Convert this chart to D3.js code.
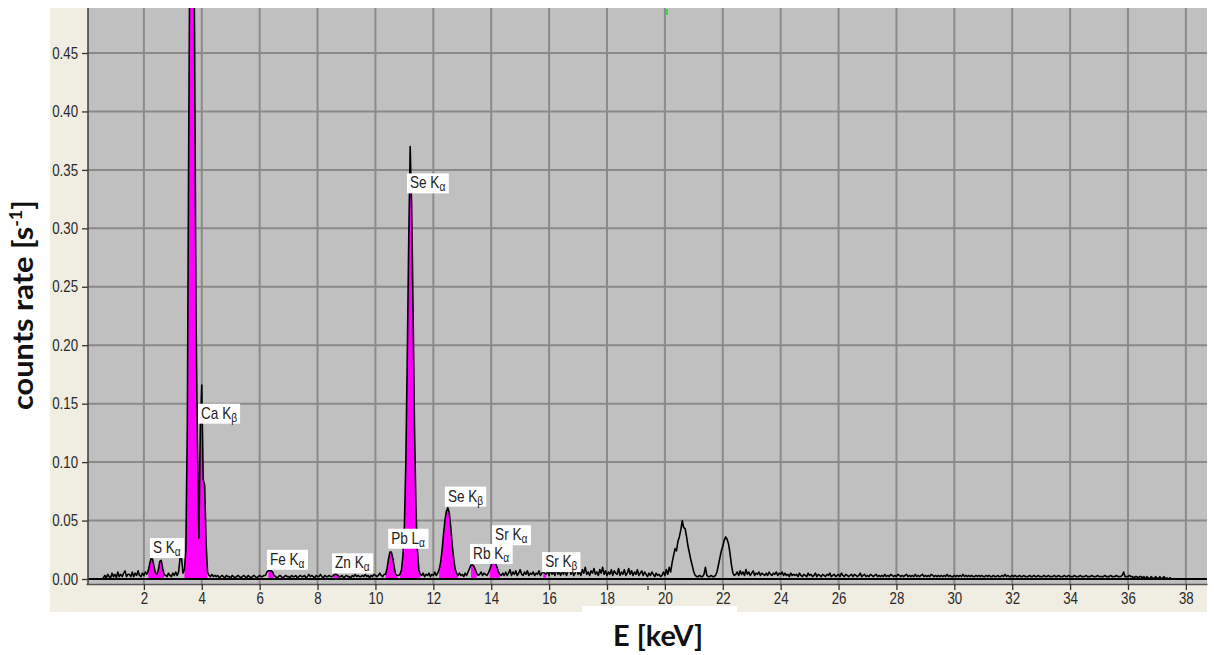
<!DOCTYPE html>
<html>
<head>
<meta charset="utf-8">
<title>XRF spectrum</title>
<script src="https://cdn.jsdelivr.net/npm/d3@7/dist/d3.min.js"></script>
<style>
  body { margin: 0; background: #fff; }
  text { font-family: "Liberation Sans", Arial, sans-serif; }
</style>
</head>
<body>
<script>
var width = 1214, height = 655;

// spectrum: one value every 0.05 keV from 0.50 keV, in 10^-3 s^-1
var eStart = 0.5, eStep = 0.05;
var rate = [
  0,0,1,3,1,4,2,1,5,2,4,1,6,2,4,2,5,7,2,4,
  4,2,6,2,5,3,7,3,2,5,3,6,4,7,13,18,17,11,5,4,
  8,15,16,9,4,3,2,5,3,2,5,3,6,3,6,18,18,5,8,25,
  130,380,600,600,600,470,230,116,35,130,166,85,80,30,6,3,2,4,2,3,
  2,3,1,2,3,2,1,3,2,2,1,3,2,1,2,3,2,1,2,3,
  2,1,3,2,1,2,3,2,1,2,3,2,2,3,3,6,7,7,7,6,
  3,2,1,2,3,2,1,2,3,2,2,1,3,2,2,3,1,2,3,2,
  2,3,1,2,4,2,3,2,1,3,2,2,4,2,1,3,2,2,3,2,
  2,3,4,4,3,2,2,3,1,2,3,2,2,1,3,2,4,2,3,2,
  2,3,2,4,2,3,1,3,2,4,3,2,3,5,3,2,4,4,9,17,
  23,23,18,10,4,3,3,4,8,20,45,100,190,290,370,320,230,130,60,25,
  8,4,3,5,2,4,3,5,2,4,3,6,3,5,8,14,24,38,50,58,
  61,57,45,30,18,9,5,3,5,3,4,2,5,3,6,9,12,12,11,8,
  5,3,4,6,3,5,4,3,5,8,12,14,14,13,10,6,4,3,5,3,
  6,3,5,8,3,6,4,7,3,5,8,4,3,6,4,7,3,5,4,6,
  3,5,4,7,3,5,6,5,4,7,3,8,4,6,3,9,4,6,3,7,
  4,8,3,6,10,4,7,3,5,9,4,6,3,8,5,10,4,6,3,7,
  5,9,4,6,3,8,5,10,4,7,3,6,4,8,3,7,5,4,9,3,
  6,4,8,3,5,9,4,7,3,6,4,8,3,5,7,3,6,4,2,5,
  3,6,4,2,5,3,4,2,3,6,3,8,4,10,6,14,20,26,24,32,
  36,42,50,44,43,36,28,22,16,11,6,3,2,2,3,2,2,4,10,3,
  2,2,3,2,2,3,6,12,18,24,28,33,36,34,30,22,12,5,3,4,
  6,3,7,4,6,3,8,4,6,3,5,7,3,5,4,6,3,5,4,3,
  5,3,6,4,3,5,4,6,3,5,4,6,3,5,3,4,2,5,3,4,
  3,4,2,5,3,2,4,3,2,5,3,4,2,3,5,2,4,3,2,4,
  3,2,4,3,5,2,3,4,2,3,4,2,5,3,2,4,3,2,3,4,
  2,4,3,2,3,5,2,3,4,2,3,2,4,3,2,3,4,2,3,2,
  3,2,4,2,3,2,4,3,2,3,2,4,3,2,3,2,3,4,2,3,
  2,3,2,4,2,3,2,3,4,2,3,2,3,2,4,3,2,3,2,3,
  2,3,2,3,2,4,2,3,2,2,3,2,3,2,3,2,4,2,3,2,
  3,2,3,2,2,3,2,3,2,3,2,2,3,2,3,2,2,3,2,2,
  3,2,2,3,2,4,2,3,2,2,3,2,3,2,2,3,2,2,3,2,
  2,2,3,2,2,3,2,2,3,2,2,2,3,2,2,3,2,2,2,3,
  2,2,3,2,2,2,3,2,2,3,2,2,2,3,2,2,2,3,2,2,
  2,3,2,2,2,3,2,2,2,3,2,2,2,2,3,2,2,2,3,2,
  2,2,3,2,2,2,3,6,2,2,2,3,2,2,1,2,2,1,2,2,
  1,2,0,2,1,0,2,1,0,2,1,0,2,0,1,2,0,1,0,1,
  0
];

// energy windows (keV) that are filled magenta
var roiStart = [2.15, 3.40, 6.30, 8.55, 10.35, 10.85, 12.20, 13.30, 13.95, 15.80];
var roiEnd   = [2.70, 4.20, 6.50, 8.75, 10.75, 11.55, 12.85, 13.50, 14.30, 15.90];

// peak labels: name, subscript, anchor (keV, s^-1)
var peakName = ["S K", "Ca K", "Fe K", "Zn K", "Pb L", "Se K", "Se K", "Rb K", "Sr K", "Sr K"];
var peakSub  = ["α", "β", "α", "α", "α", "α", "β", "α", "α", "β"];
var peakE    = [2.21, 3.87, 6.25, 8.50, 10.44, 11.09, 12.40, 13.27, 14.03, 15.76];
var peakRate = [0.035, 0.150, 0.025, 0.022, 0.043, 0.347, 0.079, 0.030, 0.046, 0.023];

var xTicks = [2,4,6,8,10,12,14,16,18,20,22,24,26,28,30,32,34,36,38];
var yTicks = [0, 0.05, 0.10, 0.15, 0.20, 0.25, 0.30, 0.35, 0.40, 0.45];

var pLeft = 88, pRight = 1207, pTop = 8, pBottom = 585;

var x = d3.scaleLinear().domain([0, 38.73]).range([86, pRight]);
var y = d3.scaleLinear().domain([0, 0.4885]).range([579, pTop]);

var points = rate.map(function(r, i) { return { e: eStart + i * eStep, v: r / 1000 }; });

var svg = d3.select("body").append("svg")
  .attr("width", width)
  .attr("height", height);

// beige panel and grey plot area
svg.append("rect").attr("x", 50).attr("y", pTop).attr("width", pRight - 50).attr("height", 612 - pTop).attr("fill", "#f0ede3");
svg.append("rect").attr("x", pLeft).attr("y", pTop).attr("width", pRight - pLeft).attr("height", pBottom - pTop).attr("fill", "#c0c0c0");
svg.append("rect").attr("x", 582).attr("y", 606).attr("width", 155).attr("height", 6).attr("fill", "#fff");

svg.append("clipPath").attr("id", "plotclip")
  .append("rect").attr("x", pLeft).attr("y", pTop).attr("width", pRight - pLeft).attr("height", pBottom - pTop);

var plot = svg.append("g").attr("clip-path", "url(#plotclip)");

// grid
plot.selectAll(".vgrid").data(xTicks).enter().append("line")
  .attr("x1", function(d) { return x(d); }).attr("x2", function(d) { return x(d); })
  .attr("y1", pTop).attr("y2", pBottom)
  .attr("stroke", "#8a8a8a").attr("stroke-width", 2);
plot.selectAll(".hgrid").data(yTicks.slice(1)).enter().append("line")
  .attr("x1", pLeft).attr("x2", pRight)
  .attr("y1", function(d) { return y(d); }).attr("y2", function(d) { return y(d); })
  .attr("stroke", "#8a8a8a").attr("stroke-width", 2);

// magenta peak areas
var area = d3.area()
  .x(function(d) { return x(d.e); })
  .y0(y(0))
  .y1(function(d) { return y(d.v); });

roiStart.forEach(function(s, k) {
  var pts = points.filter(function(d) { return d.e > s - 1e-6 && d.e < roiEnd[k] + 1e-6; });
  plot.append("path").datum(pts).attr("d", area).attr("fill", "#ff00ff");
});

// spectrum line
var line = d3.line()
  .x(function(d) { return x(d.e); })
  .y(function(d) { return y(d.v); });

plot.append("path").datum(points)
  .attr("d", line)
  .attr("fill", "none")
  .attr("stroke", "#000")
  .attr("stroke-width", 1.6)
  .attr("stroke-linejoin", "round");

// zero line
plot.append("line").attr("x1", pLeft).attr("x2", pRight).attr("y1", y(0)).attr("y2", y(0))
  .attr("stroke", "#000").attr("stroke-width", 1.8);

// small green marker at top
svg.append("line").attr("x1", 667).attr("x2", 667).attr("y1", 9).attr("y2", 15)
  .attr("stroke", "#3ad83a").attr("stroke-width", 2);

// peak labels
peakName.forEach(function(n, i) {
  var g = svg.append("g").attr("transform", "translate(" + x(peakE[i]) + "," + y(peakRate[i]) + ")");
  var r = g.append("rect").attr("fill", "#fff");
  var t = g.append("text").attr("transform", "translate(3,15) scale(0.85,1)")
    .style("font-size", "16px").attr("fill", "#222");
  t.append("tspan").text(n);
  t.append("tspan").attr("dy", 3).style("font-size", "12px").text(peakSub[i]);
  var w = t.node().getBBox().width * 0.85;
  r.attr("width", w + 6).attr("height", 20);
});

// axes
var xAxis = d3.axisBottom(x).tickValues(xTicks).tickFormat(d3.format("d")).tickSize(6).tickSizeOuter(0);
var gx = svg.append("g").attr("transform", "translate(0," + (pBottom - 1) + ")").call(xAxis);
gx.select(".domain").attr("stroke", "#555").attr("stroke-width", 1.5);
gx.selectAll(".tick line").attr("stroke", "#333").attr("stroke-width", 1.3);
gx.selectAll(".tick text").attr("fill", "#2a2a2a").style("font-size", "16px")
  .attr("transform", "scale(0.83,1)");

var yAxis = d3.axisLeft(y).tickValues(yTicks).tickFormat(d3.format(".2f")).tickSize(6).tickSizeOuter(0);
var gy = svg.append("g").attr("transform", "translate(" + pLeft + ",0)").call(yAxis);
gy.select(".domain").remove();
gy.selectAll(".tick line").attr("stroke", "#333").attr("stroke-width", 1.3);
gy.selectAll(".tick text").attr("fill", "#2a2a2a").style("font-size", "16px")
  .attr("x", -12).attr("transform", "scale(0.83,1)");
svg.append("line").attr("x1", pLeft).attr("x2", pLeft).attr("y1", pTop).attr("y2", pBottom)
  .attr("stroke", "#444").attr("stroke-width", 1.6);
svg.append("line").attr("x1", 648).attr("x2", 648).attr("y1", 586).attr("y2", 590)
  .attr("stroke", "#555").attr("stroke-width", 1.5);

// axis titles
var yt = svg.append("g").attr("transform", "translate(33,305) rotate(-90)");
var ytt = yt.append("text").attr("text-anchor", "middle").attr("fill", "#111")
  .style("font-family", "Lato, 'Open Sans', sans-serif").style("font-weight", "bold").style("font-size", "29px");
ytt.append("tspan").text("counts rate [s");
ytt.append("tspan").attr("dy", -11).style("font-size", "17px").text("-1");
ytt.append("tspan").attr("dy", 11).text("]");
var yw = ytt.node().getBBox().width;
ytt.attr("transform", "scale(" + (210 / yw) + ",1)");

var xt = svg.append("text").attr("x", 0).attr("y", 0).attr("text-anchor", "middle").attr("fill", "#111")
  .style("font-family", "Lato, 'Open Sans', sans-serif").style("font-weight", "bold").style("font-size", "28px")
  .text("E [keV]");
var xw = xt.node().getBBox().width;
xt.attr("transform", "translate(658,646) scale(" + (90 / xw) + ",1)");
</script>
</body>
</html>
